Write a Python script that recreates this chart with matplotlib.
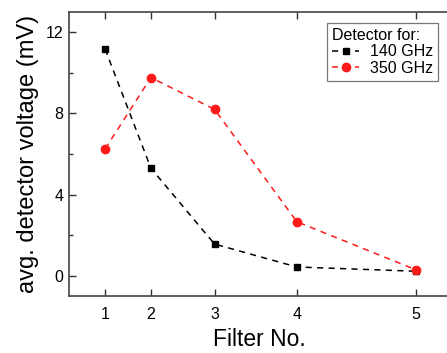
import matplotlib
matplotlib.use("Agg")
import matplotlib.pyplot as plt
from matplotlib.ticker import MultipleLocator

plt.rcParams['font.family'] = ['Liberation Sans', 'DejaVu Sans']

# filter positions on the (non-uniform) x axis, labelled 1..5
filter_pos = [1.0, 1.59, 2.41, 3.47, 5.0]
filter_labels = ['1', '2', '3', '4', '5']

v_140 = [11.17, 5.3, 1.56, 0.43, 0.22]
v_350 = [6.25, 9.77, 8.2, 2.66, 0.3]

fig = plt.figure(figsize=(4.47, 3.53), dpi=100)
ax = fig.add_axes([0.1544, 0.1615, 0.85, 0.8045])

ax.plot(filter_pos, v_140, ls='--', color='black', marker='s', ms=5,
        lw=1.1, dashes=(4, 3.5), label='140 GHz')
ax.plot(filter_pos, v_350, ls='--', color='#ff1a1a', marker='o', ms=6,
        lw=1.1, dashes=(4, 3.5), label='350 GHz', mfc='#ff1a1a', mec='#ff1a1a')

ax.set_xlim(0.535, 5.43)
ax.set_ylim(-1, 13)
ax.set_xticks(filter_pos)
ax.set_xticklabels(filter_labels)
ax.yaxis.set_major_locator(MultipleLocator(4))
ax.yaxis.set_minor_locator(MultipleLocator(2))

# right spine sits just outside the picture, so no right ticks
ax.tick_params(which='both', direction='in', top=True, right=False,
               labelsize=11.5, color='#333333', width=1.0)
ax.tick_params(which='major', length=5)
ax.tick_params(which='minor', length=3)
ax.tick_params(axis='x', pad=8)
ax.tick_params(axis='y', pad=4)
for s in ax.spines.values():
    s.set_linewidth(1.2)
    s.set_color('#444444')

ax.set_xlabel('Filter No.', fontsize=16.5, labelpad=4)
ax.set_ylabel('avg. detector voltage (mV)', fontsize=17, labelpad=5)

leg = ax.legend(title='Detector for:', loc='upper right', fontsize=11.5,
                title_fontsize=11.5, frameon=True, fancybox=False,
                borderpad=0.3, handlelength=1.7, handletextpad=0.7,
                labelspacing=0.1, borderaxespad=0,
                bbox_to_anchor=(0.972, 0.961))
leg.get_frame().set_edgecolor('#555555')
leg.get_frame().set_linewidth(0.9)
leg._legend_box.align = 'left'

fig.savefig('out.png', dpi=100)
